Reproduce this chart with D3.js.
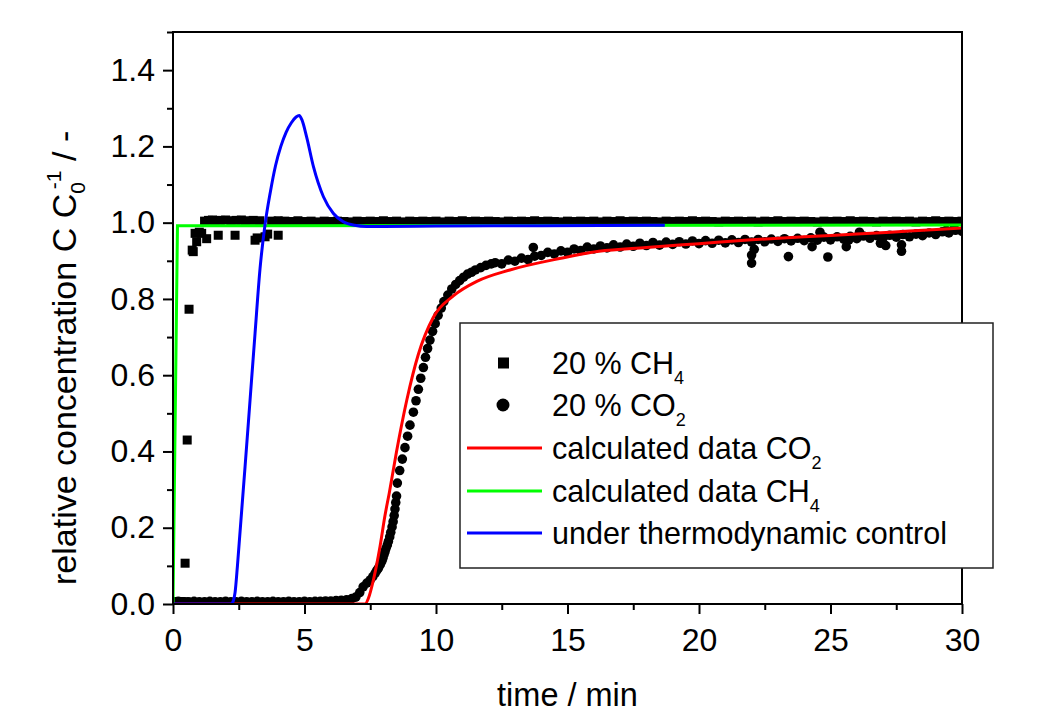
<!DOCTYPE html>
<html>
<head>
<meta charset="utf-8">
<script src="https://cdn.jsdelivr.net/npm/d3@7"></script>
<style>
  body { margin: 0; background: #fff; }
  svg text { font-family: Arial, "Liberation Sans", sans-serif; fill: #000; }
</style>
</head>
<body>
<script>
// axis ticks
var xMajor = [0, 5, 10, 15, 20, 25, 30],
    xMinor = [2.5, 7.5, 12.5, 17.5, 22.5, 27.5],
    yMajor = [0, 0.2, 0.4, 0.6, 0.8, 1.0, 1.2, 1.4],
    yMinor = [0.1, 0.3, 0.5, 0.7, 0.9, 1.1, 1.3, 1.5];

// 20 % CH4, measured (time min, C/C0)
var ch4Points = [
  [0,0.006],[0.1,0.006],[0.2,0.006],[0.3,0.006],[0.4,0.006],
  [0.46,0.107],[0.54,0.43],[0.61,0.773],[0.73,0.928],[0.77,0.924],[0.84,0.972],[0.9,0.95],
  [1.0,0.975],[1.09,0.972],[1.2,1.004],[1.28,0.958],[1.35,1.006],[1.5,1.007],[1.6,1.005],
  [1.72,0.967],[1.8,1.006],[2.0,1.007],[2.2,1.005],[2.36,0.967],[2.4,1.006],[2.6,1.007],
  [2.75,1.005],[3.05,1.006],[3.12,0.954],[3.2,0.96],[3.3,1.005],[3.5,0.963],[3.6,0.97],
  [3.75,1.004],[4.0,0.967],[4.0,1.005],
  [4.25,1.004],[4.5,1.003],[4.75,1.005],[5,1.003],[5.25,1.004],[5.5,1.002],[5.75,1.004],[6,1.003],
  [6.25,1.004],[6.5,1.003],[6.75,1.002],[7,1.004],[7.25,1.003],[7.5,1.004],[7.75,1.003],[8,1.005],
  [8.25,1.003],[8.5,1.004],[8.75,1.002],[9,1.004],[9.25,1.003],[9.5,1.004],[9.75,1.003],[10,1.004],
  [10.25,1.002],[10.5,1.004],[10.75,1.003],[11,1.005],[11.25,1.003],[11.5,1.004],[11.75,1.003],[12,1.004],
  [12.25,1.003],[12.5,1.002],[12.75,1.004],[13,1.003],[13.25,1.004],[13.5,1.003],[13.75,1.005],[14,1.003],
  [14.25,1.004],[14.5,1.003],[14.75,1.002],[15,1.004],[15.25,1.003],[15.5,1.004],[15.75,1.003],[16,1.004],
  [16.25,1.002],[16.5,1.004],[16.75,1.003],[17,1.005],[17.25,1.003],[17.5,1.004],[17.75,1.003],[18,1.004],
  [18.25,1.003],[18.5,1.002],[18.75,1.004],[19,1.003],[19.25,1.004],[19.5,1.003],[19.75,1.005],[20,1.003],
  [20.25,1.004],[20.5,1.003],[20.75,1.002],[21,1.004],[21.25,1.003],[21.5,1.004],[21.75,1.003],[22,1.004],
  [22.25,1.002],[22.5,1.004],[22.75,1.003],[23,1.005],[23.25,1.003],[23.5,1.004],[23.75,1.003],[24,1.004],
  [24.25,1.003],[24.5,1.002],[24.75,1.004],[25,1.003],[25.25,1.004],[25.5,1.003],[25.75,1.005],[26,1.003],
  [26.25,1.004],[26.5,1.003],[26.75,1.002],[27,1.004],[27.25,1.003],[27.5,1.004],[27.75,1.003],[28,1.004],
  [28.25,1.002],[28.5,1.004],[28.75,1.003],[29,1.005],[29.25,1.003],[29.5,1.004],[29.75,1.003],[30,1.004]
];

// 20 % CO2, measured
var co2Points = [
  [0,0.006],[0.2,0.007],[0.4,0.006],[0.6,0.006],[0.8,0.007],[1,0.006],[1.2,0.006],[1.4,0.007],
  [1.6,0.006],[1.8,0.006],[2,0.007],[2.2,0.006],[2.4,0.006],[2.6,0.007],[2.8,0.006],[3,0.006],
  [3.2,0.007],[3.4,0.006],[3.6,0.006],[3.8,0.007],[4,0.006],[4.2,0.006],[4.4,0.007],[4.6,0.006],
  [4.8,0.006],[5,0.007],[5.2,0.006],[5.4,0.007],[5.6,0.007],[5.8,0.008],[6,0.008],[6.2,0.009],
  [6.4,0.010],[6.6,0.011],[6.8,0.014],[6.95,0.018],[7.1,0.03],
  [7.23,0.045],[7.37,0.055],[7.5,0.063],[7.6,0.072],[7.69,0.081],[7.75,0.088],[7.81,0.094],
  [7.88,0.103],[7.94,0.112],[7.98,0.12],[8.02,0.129],[8.06,0.137],[8.1,0.146],[8.15,0.155],
  [8.19,0.164],[8.24,0.176],[8.28,0.188],[8.33,0.202],[8.37,0.216],[8.41,0.232],[8.44,0.249],
  [8.47,0.266],[8.5,0.283],[8.53,0.317],[8.62,0.35],[8.72,0.38],[8.82,0.41],[8.92,0.44],
  [9.01,0.469],[9.14,0.503],[9.24,0.533],[9.33,0.563],[9.42,0.592],[9.52,0.62],[9.6,0.647],
  [9.68,0.67],[9.77,0.692],[9.87,0.715],[9.97,0.735],[10.08,0.757],[10.2,0.776],[10.3,0.793],
  [10.45,0.81],[10.6,0.826],[10.75,0.838],[10.9,0.848],[11.05,0.857],[11.2,0.865],[11.35,0.87],
  [11.5,0.876],[11.7,0.882],[11.9,0.888],[12.1,0.892],
  [12.25,0.895],[12.5,0.892],[12.75,0.902],[13,0.899],[13.25,0.907],[13.5,0.903],[13.75,0.912],[14,0.914],
  [14.25,0.922],[14.5,0.918],[14.75,0.926],[15,0.922],[15.25,0.931],[15.5,0.927],[15.75,0.936],[16,0.931],
  [16.25,0.939],[16.5,0.934],[16.75,0.942],[17,0.936],[17.25,0.944],[17.5,0.938],[17.75,0.946],[18,0.94],
  [18.25,0.948],[18.5,0.941],[18.75,0.949],[19,0.943],[19.25,0.95],[19.5,0.944],[19.75,0.952],[20,0.945],
  [20.25,0.953],[20.5,0.946],[20.75,0.954],[21,0.947],[21.25,0.955],[21.5,0.948],[21.75,0.956],[22,0.949],
  [22.25,0.956],[22.5,0.95],[22.75,0.957],[23,0.951],[23.25,0.958],[23.5,0.952],[23.75,0.959],[24,0.953],
  [24.25,0.96],[24.5,0.954],[24.75,0.962],[25,0.955],[25.25,0.963],[25.5,0.957],[25.75,0.964],[26,0.958],
  [26.25,0.965],[26.5,0.959],[26.75,0.966],[27,0.96],[27.25,0.967],[27.5,0.962],[27.75,0.969],[28,0.963],
  [28.25,0.97],[28.5,0.966],[28.75,0.973],[29,0.969],[29.25,0.976],[29.5,0.973],[29.75,0.98],[30,0.977],
  // scattered points
  [13.7,0.935],[22.0,0.894],[22.0,0.915],[22.1,0.93],[23.4,0.911],[24.3,0.937],[24.6,0.975],
  [24.9,0.91],[25.6,0.937],[25.7,0.955],[26.1,0.975],[26.9,0.946],[27.1,0.94],[27.7,0.925],
  [27.7,0.942],[29.4,0.98],[29.7,0.985]
];

// calculated data CO2
var calcCO2 = [
  [0,0],[7.3,0],[7.43,0.015],[7.62,0.063],[7.87,0.15],[8.06,0.232],[8.22,0.29],[8.5,0.4],
  [8.89,0.535],[9.33,0.655],[9.9,0.752],[10.66,0.808],[11.55,0.846],[12.81,0.876],[14.7,0.906],
  [16.2,0.925],[18,0.935],[20,0.945],[22,0.955],[24,0.963],[26,0.97],[28,0.978],[30,0.986]
];

// calculated data CH4
var calcCH4 = [[0,0],[0.17,0.992],[30,0.994]];

// under thermodynamic control
var thermo = [
  [0,0],[2.2,0],[2.3,0.01],[2.36,0.03],[2.45,0.1],[2.55,0.19],[2.74,0.36],[2.93,0.535],
  [3.12,0.71],[3.31,0.88],[3.5,0.995],[3.7,1.08],[3.9,1.15],[4.1,1.2],[4.3,1.237],
  [4.5,1.262],[4.68,1.277],[4.8,1.281],[4.9,1.27],[5.08,1.225],[5.34,1.147],[5.72,1.068],
  [6.1,1.024],[6.46,1.003],[6.9,0.993],[7.36,0.99],[8,0.99],[10,0.991],[14,0.992],[18.7,0.993]
];

var width = 1037, height = 722;
var x = d3.scaleLinear().domain([0, 30]).range([173, 962]),
    y = d3.scaleLinear().domain([0, 1.5]).range([604, 32]);

var svg = d3.select('body').append('svg')
    .attr('width', width)
    .attr('height', height);

svg.append('clipPath').attr('id', 'plot-clip')
  .append('rect')
    .attr('x', x(0)).attr('y', y(1.5))
    .attr('width', x(30) - x(0)).attr('height', y(0) - y(1.5));

// axes
var fontSize = 32;
svg.append('g')
    .attr('transform', 'translate(0,' + y(0) + ')')
    .call(d3.axisBottom(x).tickValues(xMajor).tickSize(10).tickPadding(14).tickFormat(d3.format('d')));
svg.append('g')
    .attr('transform', 'translate(0,' + y(0) + ')')
    .call(d3.axisBottom(x).tickValues(xMinor).tickSize(6).tickFormat(''));
svg.append('g')
    .attr('transform', 'translate(' + x(0) + ',0)')
    .call(d3.axisLeft(y).tickValues(yMajor).tickSize(10).tickPadding(8).tickFormat(d3.format('.1f')));
svg.append('g')
    .attr('transform', 'translate(' + x(0) + ',0)')
    .call(d3.axisLeft(y).tickValues(yMinor).tickSize(6).tickFormat(''));

svg.selectAll('.domain').remove();
svg.selectAll('.tick line').attr('stroke', '#000').attr('stroke-width', 2);
svg.selectAll('.tick text').attr('font-size', fontSize).attr('font-family', 'Arial, "Liberation Sans", sans-serif');

// data
var plot = svg.append('g').attr('clip-path', 'url(#plot-clip)');

plot.selectAll('.ch4')
  .data(ch4Points)
  .enter().append('rect')
    .attr('class', 'ch4')
    .attr('x', d => x(d[0]) - 4.5)
    .attr('y', d => y(d[1]) - 4.5)
    .attr('width', 9).attr('height', 9)
    .attr('fill', '#000');

plot.selectAll('.co2')
  .data(co2Points)
  .enter().append('circle')
    .attr('class', 'co2')
    .attr('cx', d => x(d[0]))
    .attr('cy', d => y(d[1]))
    .attr('r', 4.8)
    .attr('fill', '#000');

var line = d3.line().x(d => x(d[0])).y(d => y(d[1]));
var smooth = d3.line().x(d => x(d[0])).y(d => y(d[1])).curve(d3.curveMonotoneX);

plot.append('path').datum(calcCO2)
    .attr('d', smooth).attr('fill', 'none').attr('stroke', '#ff0000').attr('stroke-width', 3);
plot.append('path').datum(calcCH4)
    .attr('d', line).attr('fill', 'none').attr('stroke', '#00ff00').attr('stroke-width', 3);
plot.append('path').datum(thermo)
    .attr('d', smooth).attr('fill', 'none').attr('stroke', '#0000ff').attr('stroke-width', 3);

// frame
svg.append('rect')
    .attr('x', x(0)).attr('y', y(1.5))
    .attr('width', x(30) - x(0)).attr('height', y(0) - y(1.5))
    .attr('fill', 'none').attr('stroke', '#000').attr('stroke-width', 2);

// axis titles
svg.append('text')
    .attr('x', (x(0) + x(30)) / 2).attr('y', 706)
    .attr('text-anchor', 'middle').attr('font-size', 32.5)
    .text('time / min');

var yTitle = svg.append('text')
    .attr('transform', 'translate(76,585) rotate(-90)')
    .attr('text-anchor', 'start').attr('font-size', 34);
yTitle.append('tspan').text('relative concentration C C');
yTitle.append('tspan').attr('font-size', 21).attr('dy', 9).text('0');
yTitle.append('tspan').attr('font-size', 21).attr('dx', -7).attr('dy', -24).text('-1');
yTitle.append('tspan').attr('dy', 15).text(' / -');

// legend
var legend = svg.append('g');
legend.append('rect')
    .attr('x', 460).attr('y', 323).attr('width', 533).attr('height', 245)
    .attr('fill', '#fff').attr('stroke', '#222').attr('stroke-width', 1.5);

var legendRows = [
  {label: '20 % CH', sub: '4', type: 'square'},
  {label: '20 % CO', sub: '2', type: 'circle'},
  {label: 'calculated data CO', sub: '2', type: 'line', color: '#ff0000'},
  {label: 'calculated data CH', sub: '4', type: 'line', color: '#00ff00'},
  {label: 'under thermodynamic control', sub: '', type: 'line', color: '#0000ff'}
];
var rowY = [363, 405, 448, 491, 533];

legendRows.forEach((r, i) => {
  var yy = rowY[i];
  if (r.type === 'square') {
    legend.append('rect').attr('x', 498).attr('y', yy - 5.5).attr('width', 11).attr('height', 11).attr('fill', '#000');
  } else if (r.type === 'circle') {
    legend.append('circle').attr('cx', 503).attr('cy', yy).attr('r', 6.5).attr('fill', '#000');
  } else {
    legend.append('line').attr('x1', 467).attr('x2', 542).attr('y1', yy).attr('y2', yy)
        .attr('stroke', r.color).attr('stroke-width', 3);
  }
  var t = legend.append('text').attr('x', 552).attr('y', yy + 11).attr('font-size', 30.5);
  t.append('tspan').text(r.label);
  if (r.sub) t.append('tspan').attr('font-size', 18).attr('dy', 10).text(r.sub);
});
</script>
</body>
</html>
